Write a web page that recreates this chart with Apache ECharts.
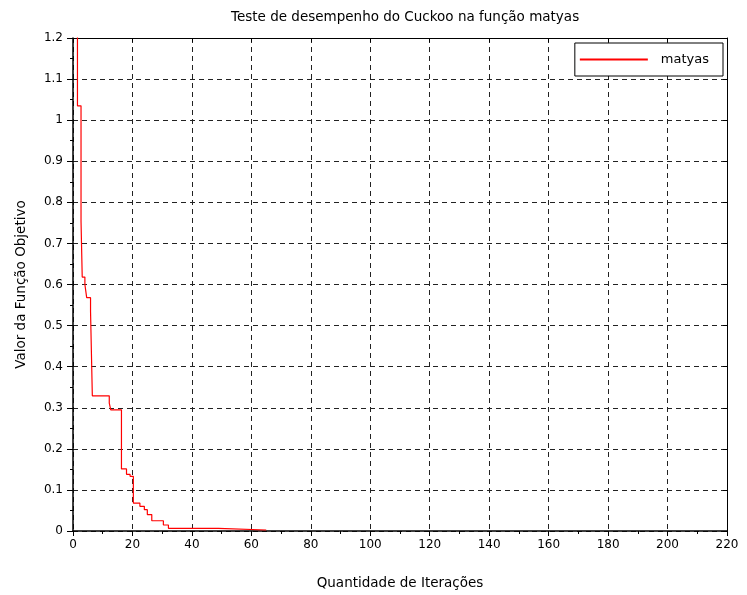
<!DOCTYPE html>
<html>
<head>
<meta charset="utf-8">
<script src="https://cdn.jsdelivr.net/npm/echarts@6/dist/echarts.min.js"></script>
<style>
  html, body { margin: 0; padding: 0; background: #fff; }
  #chart { width: 747px; height: 595px; }
</style>
</head>
<body>
<div id="chart"></div>
<script>
// iteration where the best value changes, and the new value
const iterations = [0, 1.5, 2.7, 3.1, 4.0, 4.6, 5.9, 6.5, 12.2, 12.7, 16.3, 18.0, 19.2, 20.3, 22.5, 24.0, 25.0, 26.5, 30.4, 32.1, 48.9, 65];
const objValues = [2.5, 1.035, 0.754, 0.618, 0.600, 0.568, 0.535, 0.329, 0.311, 0.295, 0.151, 0.138, 0.133, 0.068, 0.060, 0.052, 0.040, 0.025, 0.0146, 0.0065, 0.0024, 0.0024];

const seriesName = 'matyas';
const font = 'DejaVu Sans';

let myChart = echarts.init(document.getElementById('chart'));

const gridLine = { show: true, lineStyle: { color: '#222', type: [5, 4], width: 1 } };

const option = {
  animation: false,
  backgroundColor: '#fff',
  title: {
    text: 'Teste de desempenho do Cuckoo na função matyas',
    left: 226,
    top: 5,
    textStyle: { fontFamily: font, fontSize: 13.5, fontWeight: 'normal', color: '#000' }
  },
  grid: { left: 73, right: 20, top: 38, bottom: 63 },
  legend: {
    data: [seriesName],
    right: 24,
    top: 43,
    backgroundColor: '#fff',
    borderColor: '#000',
    borderWidth: 1,
    borderRadius: 0,
    padding: [10, 14, 10, 4],
    itemWidth: 68,
    itemHeight: 12,
    itemGap: 10,
    itemStyle: { opacity: 0 },
    textStyle: { fontFamily: font, fontSize: 13, color: '#000', padding: [0, 0, 0, 8] }
  },
  xAxis: [
    {
      type: 'value',
      min: 0, max: 220, interval: 20,
      name: 'Quantidade de Iterações',
      nameLocation: 'middle',
      nameGap: 45,
      nameTextStyle: { fontFamily: font, fontSize: 13.5, color: '#000' },
      axisLine: { show: true, lineStyle: { color: '#000', width: 1.5 } },
      axisTick: { show: true, length: 5, lineStyle: { color: '#000' } },
      minorTick: { show: true, splitNumber: 2, length: 3, lineStyle: { color: '#000' } },
      axisLabel: { fontFamily: font, fontSize: 12, color: '#000', margin: 8 },
      splitLine: gridLine
    },
    {
      type: 'value', position: 'top',
      min: 0, max: 220, interval: 20,
      axisLine: { show: true, onZero: false, lineStyle: { color: '#000', width: 1 } },
      axisTick: { show: true, inside: true, length: 4, lineStyle: { color: '#000' } },
      axisLabel: { show: false },
      splitLine: { show: false }
    }
  ],
  yAxis: [
    {
      type: 'value',
      min: 0, max: 1.2, interval: 0.1,
      name: 'Valor da Função Objetivo',
      nameLocation: 'middle',
      nameGap: 45,
      nameTextStyle: { fontFamily: font, fontSize: 13.5, color: '#000' },
      axisLine: { show: true, lineStyle: { color: '#000', width: 1.5 } },
      axisTick: { show: true, length: 6, lineStyle: { color: '#000' } },
      minorTick: { show: true, splitNumber: 2, length: 3, lineStyle: { color: '#000' } },
      axisLabel: {
        fontFamily: font, fontSize: 12, color: '#000', margin: 10,
        formatter: v => String(Math.round(v * 10) / 10)
      },
      splitLine: gridLine
    },
    {
      type: 'value', position: 'right',
      min: 0, max: 1.2, interval: 0.1,
      axisLine: { show: true, onZero: false, lineStyle: { color: '#000', width: 1 } },
      axisTick: { show: true, inside: true, length: 4, lineStyle: { color: '#000' } },
      axisLabel: { show: false },
      splitLine: { show: false }
    }
  ],
  series: [
    {
      name: seriesName,
      type: 'line',
      step: 'end',
      clip: true,
      symbol: 'none',
      data: iterations.map((x, i) => [x, objValues[i]]),
      lineStyle: { color: '#ff0000', width: 1.2 },
      itemStyle: { color: '#ff0000' }
    }
  ]
};

myChart.setOption(option);
</script>
</body>
</html>
